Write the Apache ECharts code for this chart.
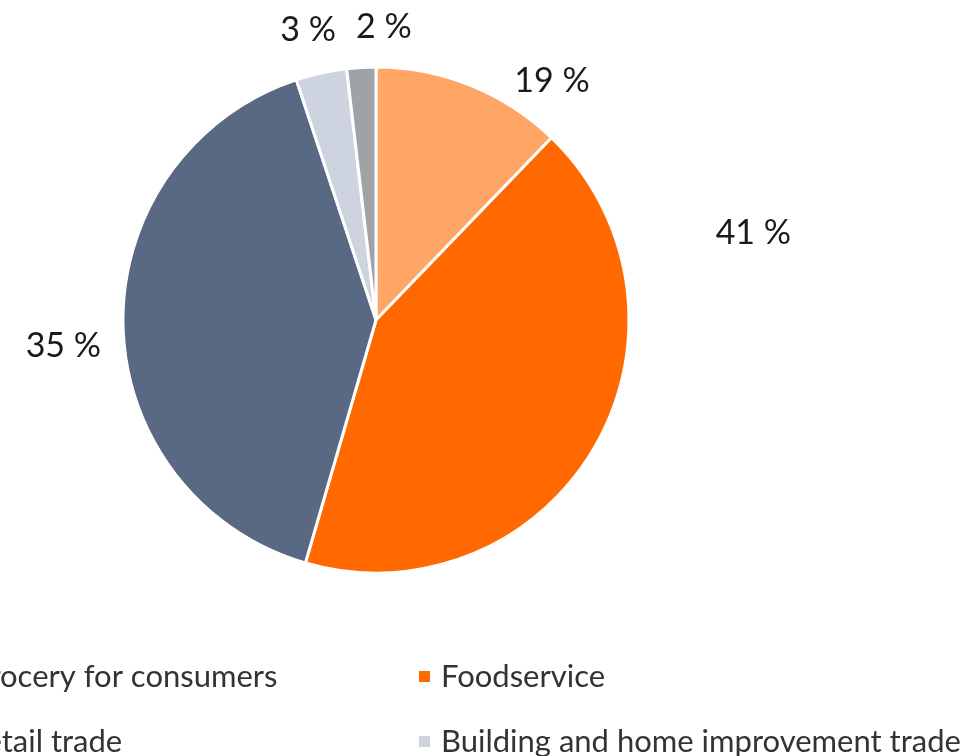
<!DOCTYPE html>
<html>
<head>
<meta charset="utf-8">
<script src="https://cdn.jsdelivr.net/npm/echarts@6/dist/echarts.min.js"></script>
<style>
  html, body { margin: 0; padding: 0; background: #fff; }
  #chart { width: 978px; height: 756px; }
</style>
</head>
<body>
<div id="chart"></div>
<script>
// segment names (legend order)
const categories = [
  "Grocery for consumers",
  "Foodservice",
  "Retail trade",
  "Building and home improvement trade",
  "Other",
]
// slice shares as drawn (%)
const shares = [12.2, 42.3, 40.4, 3.25, 1.85]
// the printed labels
const labelTexts = ["19 %", "41 %", "35 %", "3 %", "2 %"]
const colors = ["#ffa566", "#ff6900", "#596883", "#cdd3df", "#a0a3a6"]

// manual nudges for the labels (they were moved by hand in the original)
const labelShift = [
  [35, 5],
  [107, -219],
  [-7, 21],
  [22, -33],
  [56, -30],
]

const chart = echarts.init(document.getElementById("chart"), null, { renderer: "canvas" })

chart.setOption({
  animation: false,
  color: colors,
  legend: {
    left: -62,
    top: 656,
    width: 1200,
    orient: "horizontal",
    itemWidth: 13,
    itemHeight: 13,
    itemGap: 34,
    icon: "rect",
    data: categories,
    textStyle: {
      fontFamily: "Lato",
      fontSize: 31,
      color: "#333",
      width: 416,
      lineHeight: 30,
      padding: [0, 0, 0, 5],
    },
  },
  series: [
    {
      type: "pie",
      center: [376, 320],
      radius: 253,
      startAngle: 90,
      clockwise: true,
      avoidLabelOverlap: false,
      itemStyle: { borderColor: "#fff", borderWidth: 3 },
      label: {
        show: true,
        position: "outside",
        fontFamily: "Lato",
        fontSize: 34,
        color: "#1a1a1a",
        formatter: (p) => labelTexts[p.dataIndex],
      },
      labelLine: { show: false, length: 10, length2: 0 },
      labelLayout: (p) => ({
        dx: labelShift[p.dataIndex][0],
        dy: labelShift[p.dataIndex][1],
      }),
      data: categories.map((name, i) => ({ name, value: shares[i] })),
    },
  ],
})
</script>
</body>
</html>
